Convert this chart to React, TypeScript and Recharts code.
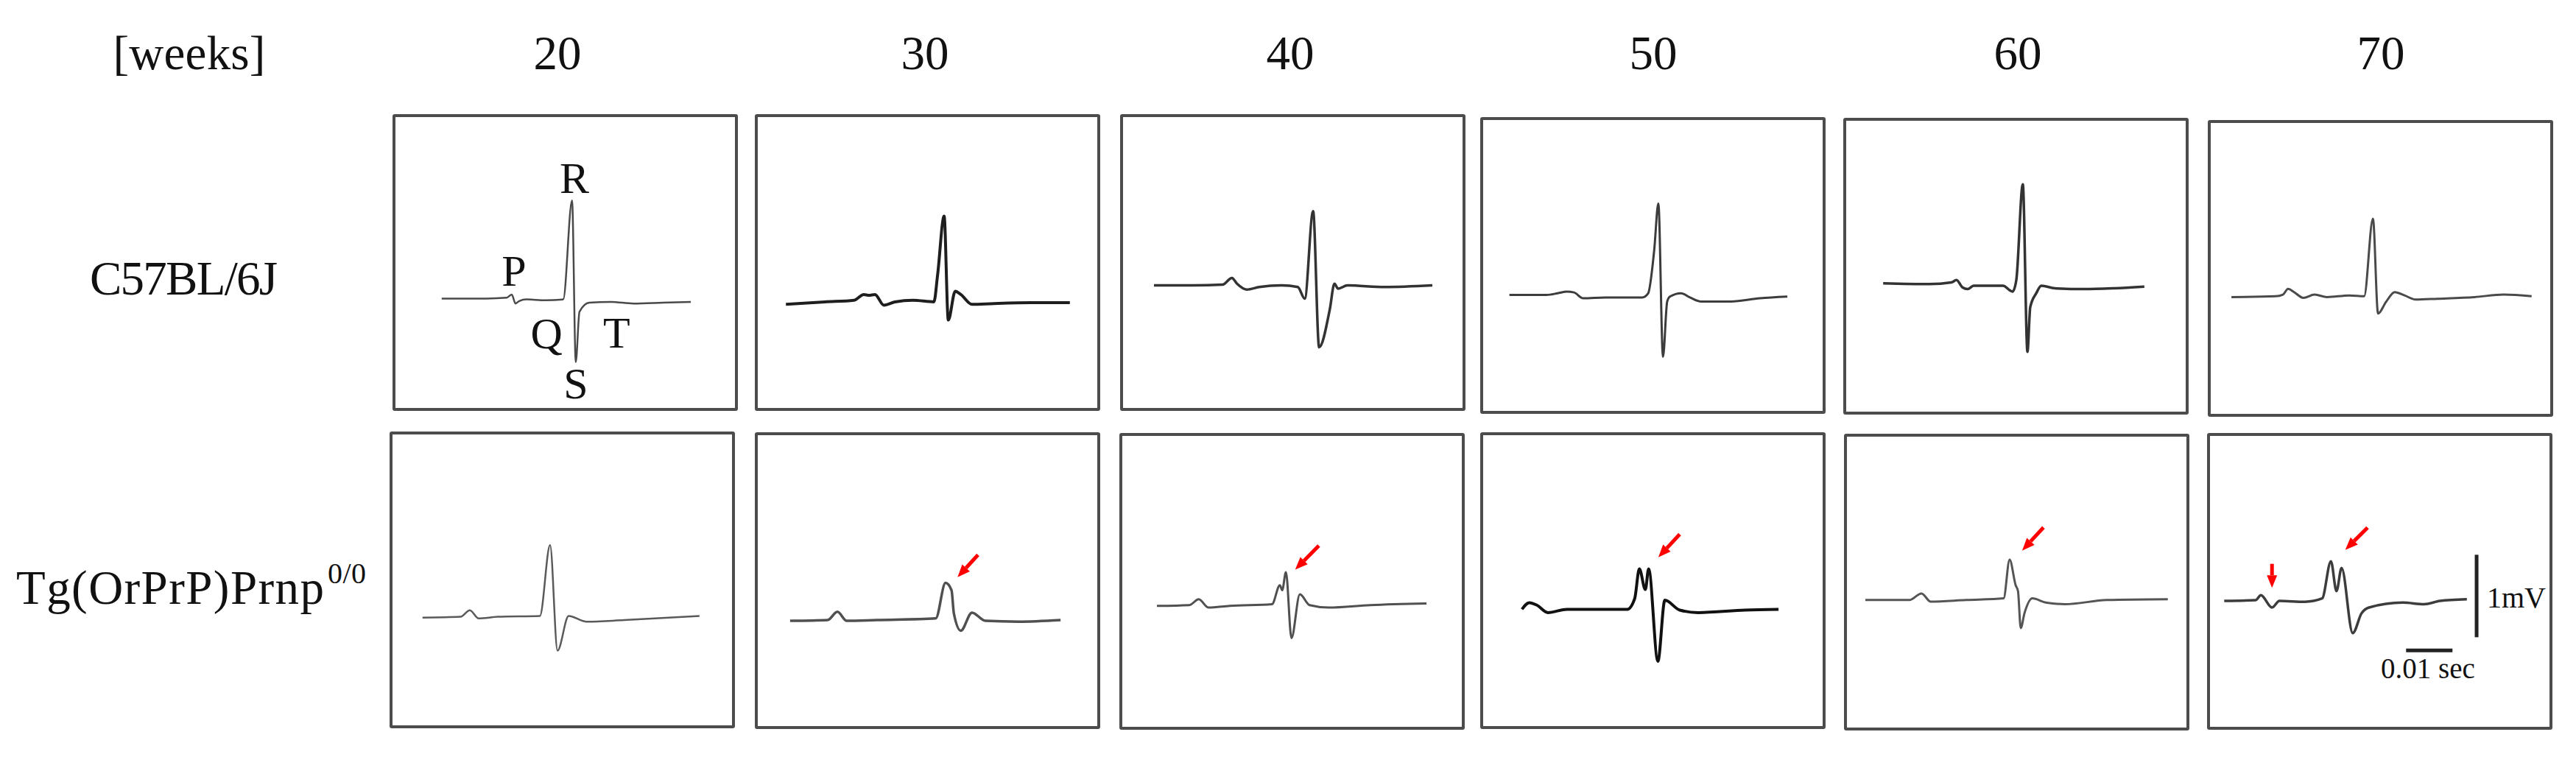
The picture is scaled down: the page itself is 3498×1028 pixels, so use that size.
import { LineChart, Line, XAxis, YAxis, ReferenceLine, ReferenceDot } from "recharts";

type Pair = [number, number];

// column and row labels
const weeks = ["20", "30", "40", "50", "60", "70"];
const strainWT = "C57BL/6J";
const strainTg = "Tg(OrPrP)Prnp";
const strainTgSup = "0/0";

// traces: [time in ms from panel edge, mV]
const wt20: Pair[] = [[10.6, -0.04], [20.2, -0.04], [24.6, -0.03], [25.7, 0.01], [26.5, -0.1], [27.3, -0.07], [28.9, -0.05], [32.9, -0.06], [36.8, -0.05], [38.7, 1.15], [39.5, -0.81], [40.3, -0.2], [42.4, -0.09], [47.1, -0.08], [51.9, -0.1], [58.3, -0.09], [64.3, -0.08]];
const wt30: Pair[] = [[6.7, -0.11], [15.1, -0.08], [21.4, -0.06], [23.5, 0.01], [24.6, 0.0], [25.9, 0.01], [27.8, -0.12], [30.2, -0.08], [34.1, -0.06], [38.6, -0.08], [39.4, 0.25], [40.8, 0.96], [41.7, -0.3], [43.2, 0.05], [44.4, 0.01], [46.8, -0.11], [51.6, -0.1], [59.5, -0.09], [67.9, -0.09]];
const wt40: Pair[] = [[7.3, 0.12], [15.7, 0.12], [22.1, 0.13], [24.1, 0.21], [25.2, 0.14], [27.3, 0.07], [30.0, 0.1], [34.8, 0.12], [38.3, 0.1], [39.8, -0.04], [41.6, 1.02], [42.9, -0.63], [45.2, -0.17], [46.2, 0.14], [47.0, 0.08], [49.0, 0.12], [57.0, 0.1], [67.3, 0.12]];
const wt50: Pair[] = [[6.3, 0.04], [14.3, 0.04], [16.7, 0.06], [18.7, 0.08], [20.2, 0.07], [22.2, 0.0], [27.0, 0.01], [34.9, 0.01], [36.2, 0.06], [37.5, 0.58], [38.4, 1.15], [39.4, -0.71], [40.3, -0.04], [40.9, 0.02], [43.3, 0.06], [45.2, 0.01], [47.6, -0.04], [54.0, -0.04], [60.3, 0.0], [66.2, 0.02]];
const wt60: Pair[] = [[8.6, 0.19], [18.6, 0.18], [23.3, 0.2], [24.4, 0.23], [25.7, 0.14], [26.8, 0.12], [28.1, 0.16], [34.4, 0.16], [36.5, 0.09], [37.3, 0.23], [38.7, 1.39], [39.7, -0.64], [40.3, -0.1], [41.6, 0.07], [42.7, 0.16], [45.6, 0.13], [51.9, 0.12], [58.3, 0.13], [64.9, 0.15]];
const wt70: Pair[] = [[5.1, 0.05], [14.6, 0.06], [16.2, 0.08], [17.3, 0.15], [18.6, 0.11], [20.6, 0.04], [23.0, 0.08], [25.7, 0.05], [30.5, 0.07], [33.7, 0.06], [35.6, 1.0], [36.7, -0.15], [38.4, -0.01], [40.3, 0.11], [42.4, 0.07], [44.8, 0.02], [49.5, 0.03], [57.5, 0.05], [63.8, 0.08], [69.8, 0.06]];

const tg20: Pair[] = [[7.1, -0.06], [15.3, -0.05], [17.3, 0.03], [19.2, -0.07], [23.3, -0.05], [32.4, -0.04], [34.6, 0.82], [36.2, -0.46], [38.6, -0.04], [42.5, -0.11], [50.6, -0.09], [66.8, -0.04]];
const tg30: Pair[] = [[7.6, -0.09], [15.7, -0.08], [17.8, 0.02], [19.8, -0.09], [26.3, -0.08], [39.0, -0.06], [41.1, 0.37], [42.4, 0.28], [42.9, 0.0], [44.4, -0.21], [46.8, 0.01], [49.7, -0.09], [56.8, -0.1], [65.9, -0.08]];
const tg40: Pair[] = [[8.1, 0.1], [15.1, 0.11], [17.1, 0.18], [19.2, 0.08], [23.8, 0.1], [32.9, 0.12], [34.6, 0.35], [35.1, 0.29], [35.9, 0.51], [37.1, -0.29], [38.9, 0.24], [41.0, 0.11], [45.1, 0.08], [54.1, 0.11], [66.2, 0.13]];
const tg50: Pair[] = [[9.0, 0.05], [10.6, 0.13], [12.2, 0.1], [14.6, 0.01], [18.7, 0.05], [31.7, 0.05], [33.3, 0.18], [34.3, 0.54], [35.6, 0.29], [36.3, 0.54], [38.3, -0.58], [39.8, 0.16], [43.0, 0.04], [47.0, 0.01], [57.1, 0.04], [64.3, 0.05]];
const tg60: Pair[] = [[4.6, 0.18], [14.1, 0.18], [16.7, 0.26], [18.7, 0.16], [26.3, 0.18], [34.4, 0.2], [35.7, 0.67], [37.0, 0.36], [37.5, 0.29], [38.1, -0.16], [38.9, 0.02], [40.6, 0.2], [43.5, 0.15], [47.6, 0.13], [56.7, 0.18], [69.8, 0.19]];
const tg70: Pair[] = [[3.7, 0.16], [10.5, 0.17], [11.6, 0.23], [14.0, 0.08], [15.6, 0.16], [21.1, 0.15], [24.8, 0.19], [26.7, 0.64], [27.9, 0.28], [29.0, 0.56], [31.4, -0.23], [33.3, 0.01], [34.9, 0.08], [42.2, 0.14], [46.8, 0.12], [50.2, 0.16], [56.0, 0.18]];

// wave labels in the first panel
const waveLabels: { text: string; t: number; v: number }[] = [
  { text: "R", t: 39.2, v: 1.24 },
  { text: "P", t: 26.2, v: 0.12 },
  { text: "Q", t: 33.2, v: -0.64 },
  { text: "T", t: 48.3, v: -0.63 },
  { text: "S", t: 39.5, v: -1.25 },
];

// red arrows: [tail, head] per Tg panel
const tgArrows: Pair[][][] = [
  [],
  [[[48.1, 0.71], [43.7, 0.44]]],
  [[[43.0, 0.83], [37.9, 0.54]]],
  [[[43.0, 0.96], [38.4, 0.68]]],
  [[[43.0, 1.06], [38.4, 0.78]]],
  [[[34.6, 1.05], [29.8, 0.78]], [[14.0, 0.61], [14.0, 0.32]]],
];

// scale bars: 1 mV and 10 ms
const mvBar: Pair[] = [[58.1, 0.72], [58.1, -0.28]];
const secBar: Pair[] = [[42.9, -0.44], [52.9, -0.44]];

const W = 469;
const H = 403;
const PX_PER_MS = 6.3;
const PX_PER_MV = 112;
const BASE = 246;
const X_DOMAIN: [number, number] = [0, W / PX_PER_MS];
const Y_DOMAIN: [number, number] = [-(H - BASE) / PX_PER_MV, BASE / PX_PER_MV];

const panelLeft = [[533, 1025, 1521, 2010, 2503, 2998], [529, 1025, 1520, 2010, 2504, 2997]];
const panelTop = [[155, 155, 155, 159, 160, 163], [586, 587, 588, 587, 589, 588]];
const headerX = [757, 1256, 1752, 2245, 2740, 3233];
const strokes = [
  [["#4a4a4a", 2.5], ["#1e1e1e", 4], ["#333", 3.5], ["#3c3c3c", 3], ["#333", 3.5], ["#4a4a4a", 3]],
  [["#5a5a5a", 2.5], ["#505050", 3.5], ["#505050", 3], ["#111", 4], ["#555", 3], ["#3c3c3c", 3.5]],
] as [string, number][][];

const SERIF = "'Liberation Serif', 'Times New Roman', serif";

const toPts = (arr: Pair[]) => arr.map(([t, v]) => ({ t, v }));

const arrowShape = (p: any) => {
  const { x1, y1, x2, y2 } = p;
  const dx = x2 - x1;
  const dy = y2 - y1;
  const len = Math.hypot(dx, dy) || 1;
  const ux = dx / len;
  const uy = dy / len;
  const hl = 17;
  const hw = 7;
  const bx = x2 - ux * hl;
  const by = y2 - uy * hl;
  return (
    <g>
      <line x1={x1} y1={y1} x2={bx} y2={by} stroke="#ff0000" strokeWidth={5} />
      <polygon
        points={`${x2},${y2} ${bx - uy * hw},${by + ux * hw} ${bx + uy * hw},${by - ux * hw}`}
        fill="#ff0000"
      />
    </g>
  );
};

function EcgPanel({
  trace,
  left,
  top,
  stroke,
  width,
  extra,
}: {
  trace: Pair[];
  left: number;
  top: number;
  stroke: string;
  width: number;
  extra?: React.ReactNode[];
}) {
  return (
    <div style={{ position: "absolute", left, top, width: W, height: H }}>
      <LineChart width={W} height={H} data={toPts(trace)} margin={{ top: 0, right: 0, bottom: 0, left: 0 }}>
        <XAxis dataKey="t" type="number" domain={X_DOMAIN} hide allowDataOverflow />
        <YAxis type="number" domain={Y_DOMAIN} hide allowDataOverflow />
        <Line
          dataKey="v"
          type="monotone"
          stroke={stroke}
          strokeWidth={width}
          strokeLinejoin="round"
          dot={false}
          isAnimationActive={false}
        />
        {extra}
      </LineChart>
      <div
        style={{
          position: "absolute",
          inset: 0,
          border: "4px solid #4c4c4c",
          borderRadius: 3,
          boxSizing: "border-box",
          pointerEvents: "none",
        }}
      />
    </div>
  );
}

const textDot = (key: string, t: number, v: number, text: string, size: number, anchor: string) => (
  <ReferenceDot
    key={key}
    x={t}
    y={v}
    r={0}
    shape={(p: any) => (
      <text x={p.cx} y={p.cy} textAnchor={anchor} fontSize={size} fontFamily={SERIF} fill="#111">
        {text}
      </text>
    )}
  />
);

export default function App() {
  const wtTraces = [wt20, wt30, wt40, wt50, wt60, wt70];
  const tgTraces = [tg20, tg30, tg40, tg50, tg60, tg70];

  return (
    <div style={{ position: "absolute", left: 0, top: 0, width: 3498, height: 1028, background: "#fff" }}>
      <svg width={3498} height={1028} style={{ position: "absolute", left: 0, top: 0 }}>
        <text x={257} y={94} textAnchor="middle" fontSize={65} fontFamily={SERIF} fill="#111" textLength={207}>
          [weeks]
        </text>
        {weeks.map((w, i) => (
          <text key={w} x={headerX[i]} y={94} textAnchor="middle" fontSize={65} fontFamily={SERIF} fill="#111">
            {w}
          </text>
        ))}
        <text x={122} y={400} fontSize={65} fontFamily={SERIF} fill="#111" textLength={255}>
          {strainWT}
        </text>
        <text x={22} y={820} fontSize={65} fontFamily={SERIF} fill="#111" textLength={418}>
          {strainTg}
        </text>
        <text x={445} y={792} fontSize={40} fontFamily={SERIF} fill="#111" textLength={52}>
          {strainTgSup}
        </text>
      </svg>

      {wtTraces.map((tr, i) => (
        <EcgPanel
          key={"wt" + i}
          trace={tr}
          left={panelLeft[0][i]}
          top={panelTop[0][i]}
          stroke={strokes[0][i][0]}
          width={strokes[0][i][1]}
          extra={i === 0 ? waveLabels.map((l) => textDot("lbl" + l.text, l.t, l.v, l.text, 60, "middle")) : []}
        />
      ))}

      {tgTraces.map((tr, i) => {
        const extra: React.ReactNode[] = tgArrows[i].map((a, j) => (
          <ReferenceLine
            key={"arr" + j}
            segment={[{ x: a[0][0], y: a[0][1] }, { x: a[1][0], y: a[1][1] }]}
            shape={arrowShape}
            ifOverflow="visible"
          />
        ));
        if (i === 5) {
          extra.push(
            <ReferenceLine
              key="mv"
              segment={[{ x: mvBar[0][0], y: mvBar[0][1] }, { x: mvBar[1][0], y: mvBar[1][1] }]}
              stroke="#222"
              strokeWidth={5}
            />,
            <ReferenceLine
              key="sec"
              segment={[{ x: secBar[0][0], y: secBar[0][1] }, { x: secBar[1][0], y: secBar[1][1] }]}
              stroke="#222"
              strokeWidth={5}
            />,
            textDot("mvText", 60.3, 0.08, "1mV", 40, "start"),
            textDot("secText", 47.6, -0.78, "0.01 sec", 39, "middle")
          );
        }
        return (
          <EcgPanel
            key={"tg" + i}
            trace={tr}
            left={panelLeft[1][i]}
            top={panelTop[1][i]}
            stroke={strokes[1][i][0]}
            width={strokes[1][i][1]}
            extra={extra}
          />
        );
      })}
    </div>
  );
}
